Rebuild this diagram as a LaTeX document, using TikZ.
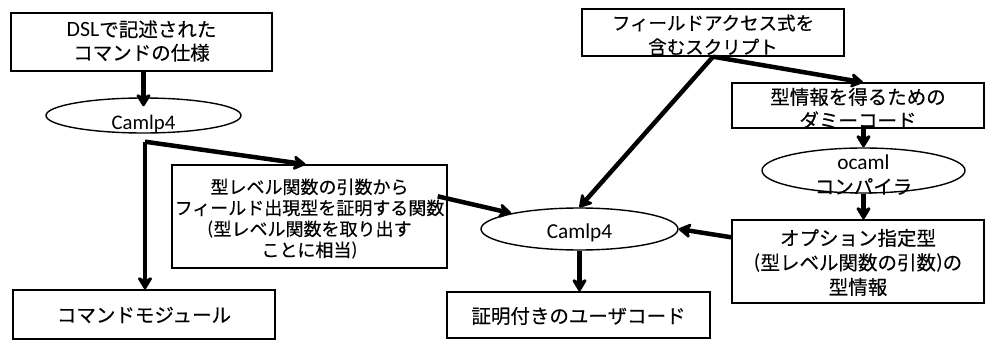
\documentclass[tikz,border=0pt]{standalone}
\usepackage{fontspec}
\setmainfont{Noto Sans CJK JP}[FakeBold=0.3]
\newfontfamily\lat{Carlito}[Scale=1.12]
\usetikzlibrary{arrows.meta,shapes.geometric,calc}
\begin{document}
\begin{tikzpicture}[x=1pt,y=-1pt,
  box/.style={draw, line width=1.4pt, rectangle, inner sep=0pt},
  oval/.style={draw, line width=1.4pt, ellipse, inner sep=0pt},
  txt/.style={align=center, inner sep=0pt, font=\fontsize{19.5}{23.5}\selectfont},
  smalltxt/.style={align=center, inner sep=0pt, font=\fontsize{18}{21}\selectfont},
  lattxt/.style={inner sep=0pt, anchor=base},
  arr/.style={line width=4.5pt, -{Stealth[length=15pt,width=18pt,inset=4.5pt,round]}},
]
\useasboundingbox (0,0) rectangle (985,340);

% left column
\node[box, minimum width=261pt, minimum height=58pt] (b1) at (141.5,42) {};
\node[txt] (b1t) at (141.5,41) {{\lat DSL}で記述された\\コマンドの仕様};

\node[oval, minimum width=195pt, minimum height=35pt] (e1) at (143.5,115.5) {};
\node[lattxt, font=\lat\fontsize{18.5}{24}\selectfont] (e1t) at (143.5,129) {Camlp4};

\node[box, minimum width=262pt, minimum height=49pt] (cmd) at (144,314.5) {};
\node[txt] (cmdt) at (144,315) {コマンドモジュール};

\node[box, minimum width=275pt, minimum height=103pt] (b2) at (309.5,216.5) {};
\node[smalltxt] (b2t) at (309.5,219) {型レベル関数の引数から\\フィールド出現型を証明する関数\\{\lat (}型レベル関数を取り出す\\ことに相当{\lat )}};

% middle
\node[oval, minimum width=197pt, minimum height=42pt] (e2) at (579.5,229) {};
\node[lattxt, font=\lat\fontsize{19}{24}\selectfont] (e2t) at (579.5,238) {Camlp4};

\node[box, minimum width=263pt, minimum height=46pt] (user) at (578.5,315) {};
\node[txt] (usert) at (578.5,316) {証明付きのユーザコード};

% right column
\node[box, minimum width=262pt, minimum height=47pt] (script) at (713,32.5) {};
\node[align=center, inner sep=0pt, font=\fontsize{18.5}{24}\selectfont] (scriptt) at (713,35) {フィールドアクセス式を\\含むスクリプト};

\node[box, minimum width=252pt, minimum height=45pt] (dummy) at (858,105.5) {};
\node[txt] (dummyt) at (858,108.5) {型情報を得るための\\ダミーコード};

\node[oval, minimum width=203pt, minimum height=45pt] (e3) at (863.5,170.5) {};
\node[align=center, inner sep=0pt, font=\fontsize{19.5}{24}\selectfont] (e3t) at (863.5,175) {{\lat\fontsize{19}{24}\selectfont ocaml}\\コンパイラ};

\node[box, minimum width=252pt, minimum height=83pt] (opt) at (858,261.5) {};
\node[align=center, inner sep=0pt, font=\fontsize{19.5}{24.5}\selectfont] (optt) at (858,262.5) {オプション指定型\\{\lat (}型レベル関数の引数{\lat )}の\\型情報};

% connectors
\coordinate (s1) at ($(e1.south)+(1.5,8)$);
\coordinate (b2out) at ($(b2.north east)+(-10,32)$);
\coordinate (optout) at ($(opt.north west)+(0,18)$);

\draw[arr, shorten >=-9pt] (b1.south -| e1.north) -- (e1.north);
\draw[arr] (s1) -- (s1 |- cmd.north);
\draw[arr] (s1) -- ($(b2.north)+(-4,0)$);
\draw[arr] (b2out) -- (e2);
\draw[arr] (script.south) -- ($(dummy.north)+(5,0)$);
\draw[arr] (script.south) -- (e2.north);
\draw[arr] (dummy.south -| e3.north) -- (e3.north);
\draw[arr] (e3.south) -- (opt.north -| e3.south);
\draw[arr] (optout) -- (e2.east);
\draw[arr] (e2.south) -- (user.north -| e2.south);
\end{tikzpicture}
\end{document}
